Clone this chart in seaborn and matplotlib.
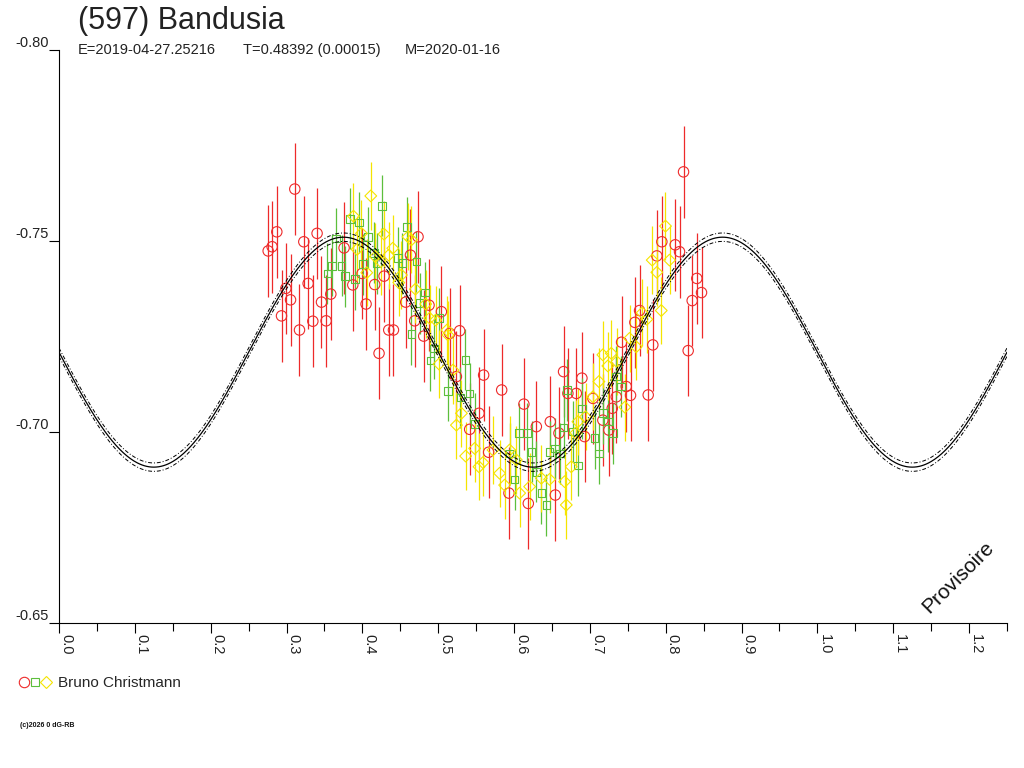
import numpy as np
import seaborn as sns
import matplotlib.pyplot as plt
from matplotlib.lines import Line2D
from matplotlib.legend_handler import HandlerTuple

# --- data ---
title = "(597) Bandusia"
epoch_txt = "E=2019-04-27.25216"
period_txt = "T=0.48392 (0.00015)"
mod_txt = "M=2020-01-16"
observer = "Bruno Christmann"

# red circles: phase, reduced magnitude
red_phase = [0.3109, 0.2872, 0.2758, 0.2810, 0.3228, 0.3403, 0.2991, 0.3053, 0.3285, 0.2934,
             0.3171, 0.3347, 0.3461, 0.3522, 0.3584, 0.3759, 0.3874, 0.4049, 0.4163, 0.4220,
             0.4286, 0.4348, 0.4410, 0.3996, 0.4572, 0.4634, 0.4690, 0.4734,
             0.4809, 0.4879, 0.5042, 0.5152, 0.5283, 0.5240, 0.5599, 0.5837, 0.5538, 0.5415,
             0.6130, 0.6294, 0.6478, 0.6592, 0.6653, 0.5665, 0.5933, 0.6188, 0.6544,
             0.8235, 0.7949, 0.7883, 0.8125, 0.8182, 0.8410, 0.8472, 0.8349, 0.8296, 0.7655,
             0.7593, 0.7418, 0.7830, 0.7769, 0.7536, 0.7479, 0.7348, 0.6895, 0.6710, 0.6821,
             0.7295, 0.7171, 0.7040, 0.7250, 0.6930]
red_mag = [-0.7636, -0.7524, -0.7474, -0.7485, -0.7498, -0.7520, -0.7376, -0.7346, -0.7389, -0.7304,
           -0.7267, -0.7290, -0.7340, -0.7291, -0.7361, -0.7482, -0.7385, -0.7335, -0.7386, -0.7206,
           -0.7408, -0.7267, -0.7267, -0.7415, -0.7340, -0.7463, -0.7291, -0.7511,
           -0.7251, -0.7332, -0.7315, -0.7258, -0.7265, -0.7145, -0.7149, -0.7110, -0.7049, -0.7007,
           -0.7073, -0.7014, -0.7027, -0.6997, -0.7158, -0.6947, -0.6840, -0.6813, -0.6835,
           -0.7681, -0.7498, -0.7461, -0.7490, -0.7472, -0.7402, -0.7365, -0.7344, -0.7213, -0.7318,
           -0.7287, -0.7235, -0.7228, -0.7097, -0.7096, -0.7119, -0.7092, -0.7141, -0.7101, -0.7101,
           -0.7062, -0.7031, -0.7088, -0.7005, -0.6988]
red_err = 0.012

# green squares
green_phase = [0.4256, 0.3838, 0.3957, 0.3654, 0.4075, 0.3601, 0.3540, 0.3725, 0.3768, 0.3900,
               0.4009, 0.4154, 0.4194, 0.4470, 0.4528, 0.4589, 0.4713, 0.4647, 0.4756,
               0.4826, 0.5011, 0.4941, 0.4897, 0.5358, 0.5129, 0.5292, 0.5415, 0.5481, 0.6065,
               0.6170, 0.5942, 0.6232, 0.6294, 0.6008, 0.6360, 0.6426, 0.6469, 0.6544, 0.6653,
               0.6697, 0.6610,
               0.6776, 0.6900, 0.7062, 0.7119, 0.6842, 0.7237, 0.7303, 0.7348, 0.7414, 0.7171]
green_mag = [-0.7592, -0.7558, -0.7548, -0.7507, -0.7510, -0.7435, -0.7415, -0.7435, -0.7408, -0.7400,
             -0.7439, -0.7469, -0.7442, -0.7456, -0.7442, -0.7536, -0.7446, -0.7256, -0.7337,
             -0.7365, -0.7298, -0.7219, -0.7187, -0.7189, -0.7108, -0.7090, -0.7101, -0.7021, -0.6997,
             -0.6997, -0.6944, -0.6948, -0.6896, -0.6876, -0.6840, -0.6809, -0.6948, -0.6957, -0.7012,
             -0.7110, -0.6944,
             -0.7001, -0.7062, -0.6984, -0.6944, -0.6912, -0.7027, -0.6997, -0.7145, -0.7119, -0.7049]
green_err = 0.008

# yellow diamonds
yellow_phase = [0.4111, 0.3883, 0.3988, 0.3930, 0.4286, 0.4401, 0.4172, 0.4242, 0.4348, 0.4058,
                0.4515, 0.4480, 0.4700, 0.4602, 0.4647,
                0.4835, 0.4888, 0.4967, 0.5116, 0.5129, 0.5011, 0.5195, 0.5306, 0.5240, 0.5362,
                0.5481, 0.5538, 0.5590, 0.5722, 0.5810, 0.5876, 0.6074, 0.6206, 0.6360, 0.6469,
                0.6667, 0.6689, 0.6030, 0.5942,
                0.7997, 0.8050, 0.7822, 0.7883, 0.7941, 0.7690, 0.7751, 0.7523, 0.7611, 0.7171,
                0.7282, 0.7237, 0.7356, 0.7119, 0.7040, 0.7461, 0.6943, 0.6842, 0.6755, 0.6812]
yellow_mag = [-0.7618, -0.7565, -0.7520, -0.7478, -0.7518, -0.7481, -0.7459, -0.7446, -0.7463, -0.7417,
              -0.7411, -0.7391, -0.7374, -0.7511, -0.7503,
              -0.7335, -0.7298, -0.7293, -0.7267, -0.7254, -0.7178, -0.7162, -0.7049, -0.7018, -0.6937,
              -0.6957, -0.6909, -0.6920, -0.6953, -0.6892, -0.6861, -0.6840, -0.6857, -0.6879, -0.6876,
              -0.6870, -0.6809, -0.6927, -0.6953,
              -0.7539, -0.7450, -0.7450, -0.7418, -0.7318, -0.7312, -0.7295, -0.7245, -0.7223, -0.7202,
              -0.7206, -0.7173, -0.7184, -0.7132, -0.7092, -0.7065, -0.7040, -0.7027, -0.6909, -0.6997]
yellow_err = 0.0088

# fitted lightcurve (2nd harmonic) and its uncertainty band
fit_mean = -0.7209
fit_amp = 0.0301
fit_phase0 = 0.375
fit_sigma = 0.0011

x_ticks = [0.0, 0.1, 0.2, 0.3, 0.4, 0.5, 0.6, 0.7, 0.8, 0.9, 1.0, 1.1, 1.2]
x_ticklabels = ["0.0", "0.1", "0.2", "0.3", "0.4", "0.5", "0.6", "0.7", "0.8", "0.9", "1.0", "1.1", "1.2"]
y_ticks = [-0.80, -0.75, -0.70, -0.65]
y_ticklabels = ["-0.80", "-0.75", "-0.70", "-0.65"]

RED = "#ee2a2a"
GREEN = "#5cbf3c"
YELLOW = "#f5e400"

sns.set_theme(style="white")
plt.rcParams['font.family'] = ['Liberation Sans', 'DejaVu Sans']

fig = plt.figure(figsize=(10.24, 7.68), dpi=100)
ax = fig.add_axes([59 / 1024, 145 / 768, 948 / 1024, 573 / 768])

# error bars + markers
series = [
    (red_phase, red_mag, red_err, RED, "o", 56),
    (green_phase, green_mag, green_err, GREEN, "s", 30),
    (yellow_phase, yellow_mag, yellow_err, YELLOW, "D", 36),
]
for ph, mg, err, col, mk, sz in series:
    mg = np.array(mg)
    ax.vlines(ph, mg - err, mg + err, colors=col, lw=0.9, zorder=2)
    sns.scatterplot(x=ph, y=mg, ax=ax, marker=mk, s=sz, fc="none", ec=col,
                    linewidth=0.8, zorder=3, legend=False)

# model curve
xx = np.linspace(0, 1.25, 800)
model = fit_mean - fit_amp * np.cos(4 * np.pi * (xx - fit_phase0))
sns.lineplot(x=xx, y=model, ax=ax, color="black", lw=0.9, zorder=4)
for off in (-fit_sigma, fit_sigma):
    sns.lineplot(x=xx, y=model + off, ax=ax, color="black", lw=0.7,
                 linestyle=(0, (4, 2, 1, 2)), zorder=4)

ax.set_xlim(0, 1.25)
ax.set_ylim(-0.65, -0.80)
ax.set_xticks(x_ticks)
ax.set_xticklabels(x_ticklabels, rotation=270, ha="left", va="top", fontsize=10.5, color="#222222")
ax.set_xticks(np.arange(0.05, 1.3, 0.1), minor=True)
ax.set_yticks(y_ticks)
ax.set_yticklabels(y_ticklabels, fontsize=10.5, color="#222222")
for lab in ax.get_yticklabels():
    lab.set_va("bottom")
ax.tick_params(axis="x", which="major", direction="out", length=7.5, width=0.8, pad=0.5, bottom=True, color="black")
ax.tick_params(axis="x", which="minor", direction="out", length=5.5, width=0.8, bottom=True, color="black")
ax.tick_params(axis="y", which="major", direction="out", length=7, width=0.8, pad=0.5, left=True, color="black")
for side in ["top", "right"]:
    ax.spines[side].set_visible(False)
for side in ["left", "bottom"]:
    ax.spines[side].set_color("black")
    ax.spines[side].set_linewidth(0.8)
ax.set_xlabel("")
ax.set_ylabel("")
ax.grid(False)

# titles
fig.text(78 / 1024, 1 - 29 / 768, title, fontsize=22, va="baseline", ha="left", color="#222222")
fig.text(78 / 1024, 1 - 54 / 768, epoch_txt, fontsize=10.5, va="baseline", ha="left", color="#222222")
fig.text(243 / 1024, 1 - 54 / 768, period_txt, fontsize=10.5, va="baseline", ha="left", color="#222222")
fig.text(405 / 1024, 1 - 54 / 768, mod_txt, fontsize=10.5, va="baseline", ha="left", color="#222222")

ax.text(0.948, 0.08, "Provisoire", transform=ax.transAxes, rotation=45, fontsize=15,
        ha="center", va="center", color="#111111")

# legend
handles = (
    Line2D([], [], marker="o", ls="none", mfc="none", mec=RED, ms=7.5, mew=0.8),
    Line2D([], [], marker="s", ls="none", mfc="none", mec=GREEN, ms=5.5, mew=0.8),
    Line2D([], [], marker="D", ls="none", mfc="none", mec=YELLOW, ms=5.8, mew=0.8),
)
fig.legend([handles], [observer], handler_map={tuple: HandlerTuple(ndivide=None, pad=0)},
           loc="center left", bbox_to_anchor=(18 / 1024, 1 - 683 / 768), frameon=False,
           fontsize=11, handlelength=2.2, handletextpad=0.4, borderpad=0, borderaxespad=0)

fig.text(20 / 1024, 1 - 727 / 768, "(c)2026 0 dG-RB", fontsize=5, weight="bold", color="#111111")

fig.savefig("out.png", dpi=100)
